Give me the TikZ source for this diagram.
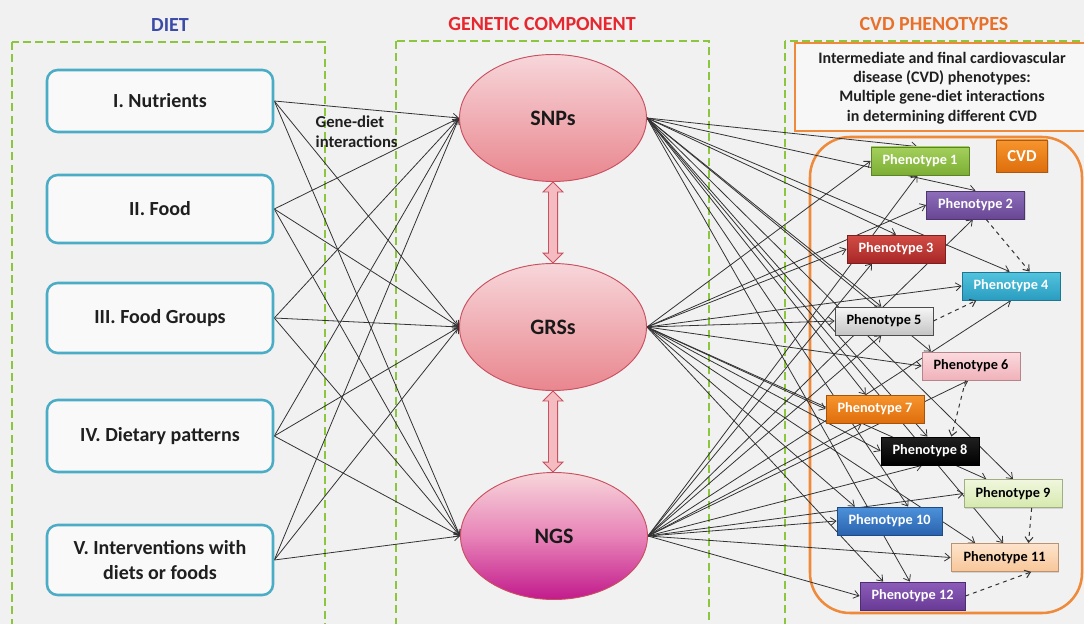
\documentclass[tikz,border=0pt]{standalone}
\usepackage{fontspec}
\setmainfont{Carlito}
\usetikzlibrary{arrows.meta,shapes.geometric,calc,shadows}
\pgfdeclarelayer{bg}
\pgfsetlayers{bg,main}
\definecolor{bgcol}{HTML}{F1F1F1}
\definecolor{dgreen}{HTML}{8CC63F}
\definecolor{dietblue}{HTML}{4BACC6}
\definecolor{titleblue}{HTML}{3B4BA8}
\definecolor{titlered}{HTML}{E8262E}
\definecolor{titleorange}{HTML}{E8702A}
\definecolor{orng}{HTML}{EE8A3A}
\definecolor{pinktop}{HTML}{F7D6DA}
\definecolor{pinkbot}{HTML}{E9868E}
\definecolor{pinkmid}{HTML}{F0B0B8}
\definecolor{magbot}{HTML}{C21A8C}
\definecolor{magmid}{HTML}{E884B8}
\definecolor{genebord}{HTML}{C85060}
\definecolor{dblfill}{HTML}{F4BCC0}
\definecolor{pAa}{HTML}{A3D05C}\definecolor{pAb}{HTML}{7DAE34}
\definecolor{pBa}{HTML}{8E6EBA}\definecolor{pBb}{HTML}{684694}
\definecolor{pCa}{HTML}{D24C44}\definecolor{pCb}{HTML}{A82828}
\definecolor{pDa}{HTML}{52C4DE}\definecolor{pDb}{HTML}{2A9CC0}
\definecolor{pEa}{HTML}{F6F6F6}\definecolor{pEb}{HTML}{C4C4C4}
\definecolor{pFa}{HTML}{FBDADE}\definecolor{pFb}{HTML}{F0B2BA}
\definecolor{pGa}{HTML}{F7952E}\definecolor{pGb}{HTML}{DE6E0C}
\definecolor{pHa}{HTML}{202020}\definecolor{pHb}{HTML}{000000}
\definecolor{pIa}{HTML}{F0F7DE}\definecolor{pIb}{HTML}{D6E9AE}
\definecolor{pJa}{HTML}{4C92DA}\definecolor{pJb}{HTML}{2A62AE}
\definecolor{pKa}{HTML}{FDE4CC}\definecolor{pKb}{HTML}{F8C698}
\definecolor{pLa}{HTML}{8C5EBA}\definecolor{pLb}{HTML}{683A96}
\begin{document}
\begin{tikzpicture}[x=0.75pt,y=-0.75pt,
  title/.style={font=\fontsize{15}{18}\selectfont\bfseries},
  greendash/.style={draw=dgreen,line width=1.8pt,dash pattern=on 6pt off 3.2pt},
  dietbox/.style={draw=dietblue,line width=1.9pt,rounded corners=8pt,fill=white!60!bgcol,
    minimum width=226*0.75pt,align=center,text=black!88,
    font=\fontsize{15}{19}\selectfont\bfseries},
  gene/.style={ellipse,draw=genebord,line width=0.7pt,minimum width=187*0.75pt,
    minimum height=127*0.75pt,font=\fontsize{16.5}{20}\selectfont\bfseries,text=black!90},
  ph/.style={minimum width=98*0.75pt,minimum height=28*0.75pt,inner sep=0pt,
    font=\fontsize{10.7}{12}\selectfont\bfseries,line width=0.6pt,
    drop shadow={opacity=0.25,shadow xshift=1pt,shadow yshift=-1pt}},
  phc/.style n args={3}{top color=#1,bottom color=#2,draw=#2!75!black,text=#3},
  link/.style={draw=black!80,line width=0.6pt,-{Straight Barb[length=4pt,width=6pt]}},
  dlink/.style={draw=black!80,line width=0.75pt,dashed,-{Straight Barb[length=4pt,width=6pt]}},
  dbl/.style={fill=dblfill,draw=genebord,line width=0.7pt}
]
\useasboundingbox (0,0) rectangle (1084,624);
\clip (0,0) rectangle (1084,624);

% titles
\node[title,text=titleblue] (tdiet) at (170,25) {DIET};
\node[title,text=titlered] (tgen) at (542,24) {GENETIC COMPONENT};
\node[title,text=titleorange] (tcvd) at (934,24) {CVD PHENOTYPES};

% diet boxes
\node[dietbox,minimum height=62*0.75pt] (d1) at (160,101) {I. Nutrients};
\node[dietbox,minimum height=68*0.75pt] (d2) at (160,209) {II. Food};
\node[dietbox,minimum height=70*0.75pt] (d3) at (160,318) {III. Food Groups};
\node[dietbox,minimum height=72*0.75pt] (d4) at (160,436) {IV. Dietary patterns};
\node[dietbox,minimum height=70*0.75pt] (d5) at (160,560) {V. Interventions with\\diets or foods};

\node[anchor=west,align=left,font=\fontsize{12.5}{15}\selectfont\bfseries,text=black!88] (gdi) at (311,132) {Gene-diet\\interactions};

% gene ellipses
\node[gene,top color=pinktop,bottom color=pinkbot] (snp) at (553,118) {SNPs};
\node[gene,top color=pinktop,bottom color=pinkbot] (grs) at (553,327) {GRSs};
\node[gene,top color=pinktop,bottom color=magbot,middle color=magmid] (ngs) at (554,536) {NGS};

% double arrows
\foreach \a/\b in {snp/grs,grs/ngs}{
  \draw[dbl] let \p1=(\a.south), \p2=(\b.north) in
    (\x1,\y1) -- ({\x1+7.5pt},{\y1-7.5pt}) -- ({\x1+3.4pt},{\y1-7.5pt})
    -- ({\x1+3.4pt},{\y2+7.5pt}) -- ({\x1+7.5pt},{\y2+7.5pt}) -- (\x1,\y2)
    -- ({\x1-7.5pt},{\y2+7.5pt}) -- ({\x1-3.4pt},{\y2+7.5pt})
    -- ({\x1-3.4pt},{\y1-7.5pt}) -- ({\x1-7.5pt},{\y1-7.5pt}) -- cycle;
}

% CVD description text
\node[align=center,font=\fontsize{12}{14.5}\selectfont\bfseries,text=black!88] (desc) at (942,88)
  {Intermediate and final cardiovascular\\disease (CVD) phenotypes:\\Multiple gene-diet interactions\\in determining different CVD};

% CVD label
\node[minimum width=51*0.75pt,minimum height=32*0.75pt,inner sep=0pt,top color=pGa,bottom color=pGb,
  draw=pGb!80!black,line width=0.6pt,text=white,font=\fontsize{12.5}{14}\selectfont\bfseries,
  drop shadow={opacity=0.25,shadow xshift=1pt,shadow yshift=-1pt}] (cvd) at (1022,156) {CVD};

% phenotypes
\node[ph,phc={pAa}{pAb}{white}] (p1) at (920,161) {Phenotype 1};
\node[ph,phc={pBa}{pBb}{white}] (p2) at (975.5,205) {Phenotype 2};
\node[ph,phc={pCa}{pCb}{white}] (p3) at (896,249) {Phenotype 3};
\node[ph,phc={pDa}{pDb}{white}] (p4) at (1011,286) {Phenotype 4};
\node[ph,phc={pEa}{pEb}{black},draw=black!70] (p5) at (884,321) {Phenotype 5};
\node[ph,phc={pFa}{pFb}{black}] (p6) at (971,366) {Phenotype 6};
\node[ph,phc={pGa}{pGb}{white}] (p7) at (875,409) {Phenotype 7};
\node[ph,phc={pHa}{pHb}{white}] (p8) at (930,451) {Phenotype 8};
\node[ph,phc={pIa}{pIb}{black}] (p9) at (1013,493.5) {Phenotype 9};
\node[ph,phc={pJa}{pJb}{white},minimum width=105*0.75pt] (p10) at (889.5,521) {Phenotype 10};
\node[ph,phc={pKa}{pKb}{black},minimum width=107*0.75pt] (p11) at (1004.5,557.5) {Phenotype 11};
\node[ph,phc={pLa}{pLb}{white},minimum width=105*0.75pt] (p12) at (912.5,596) {Phenotype 12};

% dashed phenotype links
\draw[dlink] ([xshift=8pt]p2.south) -- ([xshift=14pt]p4.north);
\draw[dlink] (p5.east) -- ([xshift=-26pt]p4.south);
\draw[dlink] ([xshift=-4pt]p6.south) -- ([xshift=16pt]p8.north);
\draw[dlink] ([xshift=14pt]p9.south) -- ([xshift=18pt]p11.north);
\draw[dlink] (p12.east) -- ([xshift=20pt]p11.south);

\begin{pgfonlayer}{bg}
  \fill[bgcol] (0,0) rectangle (1084,624);
  \draw[greendash] (12,42) rectangle (325,640);
  \draw[greendash] (396,41) rectangle (709,640);
  \draw[greendash] (785,41) rectangle (1100,640);
  \draw[draw=orng,line width=1.4pt,fill=bgcol!60!white] (795,43) rectangle (1100,131);
  \draw[draw=orng,line width=1.9pt,rounded corners=30pt] (810,137) rectangle (1082,613);
  % diet -> gene
  \foreach \d in {d1,d2,d3,d4,d5}{
    \foreach \g in {snp,grs,ngs}{
      \draw[link] (\d.east) -- (\g.west);
    }
  }
  % SNPs -> phenotypes (top edges)
  \foreach \p/\s in {p1/-2,p2/0,p3/0,p4/-1,p5/-2,p6/-30,p7/-7,p8/-2,p9/0,p10/14,p11/-1,p12/-2}{
    \draw[link] (snp.east) -- ([xshift=\s pt]\p.north);
  }
  % GRSs -> phenotypes
  \foreach \p in {p1,p2,p3,p4,p5,p6,p7,p8}{
    \draw[link] (grs.east) -- (\p.west);
  }
  \foreach \p/\s in {p9/-20,p10/-26,p11/-22,p12/-22}{
    \draw[link] (grs.east) -- ([xshift=\s pt]\p.north);
  }
  % NGS -> phenotypes
  \foreach \p/\s in {p1/-2,p2/-2,p3/-18,p4/0,p5/-2,p6/-2,p7/-10,p8/-6}{
    \draw[link] (ngs.east) -- ([xshift=\s pt]\p.south);
  }
  \foreach \p in {p9,p10,p11,p12}{
    \draw[link] (ngs.east) -- (\p.west);
  }
\end{pgfonlayer}
\end{tikzpicture}
\end{document}
